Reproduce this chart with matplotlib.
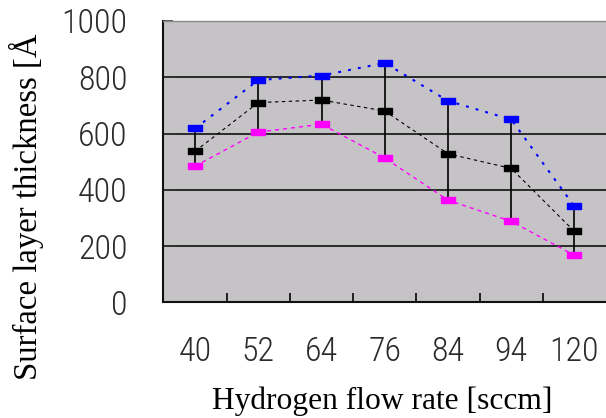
import numpy as np
import matplotlib
matplotlib.use("Agg")
import matplotlib.pyplot as plt
from matplotlib import font_manager
from matplotlib.ticker import FixedLocator

# hydrogen flow rate categories and layer thickness (Angstrom)
flow_labels = ['40', '52', '64', '76', '84', '94', '120']
thick_max = [618, 790, 806, 851, 716, 650, 341]
thick_mean = [537, 710, 719, 680, 528, 476, 252]
thick_min = [484, 605, 633, 513, 363, 288, 167]

x = np.arange(len(flow_labels))
bar = [(-1, -0.4), (1, -0.4), (1, 0.4), (-1, 0.4), (-1, -0.4)]

# pick a narrow / light sans for the tick numbers if one is around
fonts = font_manager.fontManager.ttflist
names = {f.name for f in fonts}
if 'Liberation Sans Narrow' in names:
    tick_font, tick_weight, tick_size = 'Liberation Sans Narrow', 'normal', 23.5
elif 'Roboto Condensed' in names:
    tick_font, tick_weight, tick_size = 'Roboto Condensed', 'light', 24.5
elif any(f.name == 'Roboto' and f.weight in (300, 'light') for f in fonts):
    tick_font, tick_weight, tick_size = 'Roboto', 'light', 21.5
else:
    tick_font, tick_weight, tick_size = 'Liberation Sans', 'normal', 21.5

fig = plt.figure(figsize=(6.06, 4.18), dpi=100)
ax = fig.add_axes([0.2698, 0.2768, 0.7302, 0.673])
ax.set_facecolor('#c5c3c6')

ax.vlines(x, thick_min, thick_max, color='black', lw=1.2, zorder=3)
ax.plot(x, thick_max, color='#0000ff', lw=1.5, ls=(0, (1.4, 3.4)),
        marker=bar, ms=9.5, mec='#0000ff', mfc='#0000ff', zorder=4)
ax.plot(x, thick_mean, color='black', lw=0.8, ls=(0, (3.1, 3.1)),
        marker=bar, ms=9.5, mec='black', mfc='black', zorder=4)
ax.plot(x, thick_min, color='#ff00ff', lw=1.0, ls=(0, (2.9, 2.9)),
        marker=bar, ms=9.5, mec='#ff00ff', mfc='#ff00ff', zorder=4)

ax.set_xlim(-0.5, len(flow_labels) - 0.5)
ax.set_ylim(0, 1000)
ax.set_yticks(np.arange(0, 1001, 200))
ax.set_xticks(x)
ax.set_xticklabels(flow_labels)
ax.xaxis.set_minor_locator(FixedLocator(x[:-1] + 0.5))

for sp in ['left', 'bottom']:
    ax.spines[sp].set_linewidth(1.5)
    ax.spines[sp].set_color('#111111')
ax.spines['top'].set_color('#8a8a8a')
ax.spines['top'].set_linewidth(1.0)
ax.spines['right'].set_visible(False)

ax.yaxis.grid(True, color='#111111', lw=1.2, zorder=1)
ax.set_axisbelow(True)
glines = ax.yaxis.get_gridlines()
glines[0].set_visible(False)
glines[-1].set_visible(False)

ax.tick_params(axis='y', which='major', direction='in', length=7, width=1.2,
               color='#333333', pad=26, labelsize=tick_size, labelcolor='#2a2a2a')
ax.tick_params(axis='x', which='major', length=0, pad=24,
               labelsize=tick_size, labelcolor='#2a2a2a')
ax.tick_params(axis='x', which='minor', direction='in', length=6.5,
               width=1.3, color='#111111')
for lab in ax.get_xticklabels() + ax.get_yticklabels():
    lab.set_family([tick_font, 'DejaVu Sans'])
    lab.set_weight(tick_weight)

serif = ['Liberation Serif', 'DejaVu Serif']
fig.text(382.7 / 606, 1 - 409 / 418, 'Hydrogen flow rate [sccm]',
         ha='center', va='baseline', fontsize=22.7, family=serif)
fig.text(37 / 606, 1 - 206.5 / 418, 'Surface layer thickness [Å',
         rotation=90, rotation_mode='anchor', ha='center', va='baseline',
         fontsize=23.6, family=serif)

fig.savefig('out.png', dpi=100)
